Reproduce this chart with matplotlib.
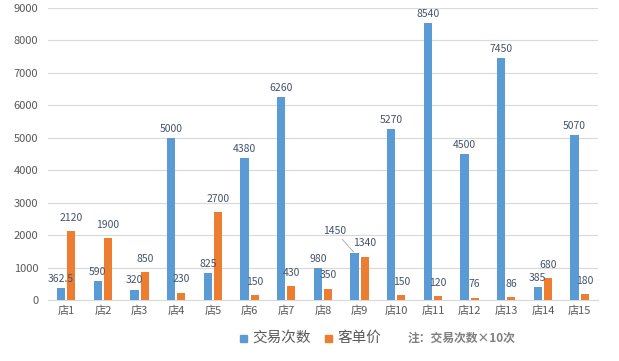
import numpy as np
import matplotlib
matplotlib.use('Agg')
import matplotlib.pyplot as plt
from matplotlib.patches import Rectangle

plt.rcParams['font.family'] = ['Noto Sans CJK SC', 'DejaVu Sans']

stores = [f'店{i}' for i in range(1, 16)]
trades = [362.5, 590, 320, 5000, 825, 4380, 6260, 980, 1450, 5270, 8540, 4500, 7450, 385, 5070]
prices = [2120, 1900, 850, 230, 2700, 150, 430, 350, 1340, 150, 120, 76, 86, 680, 180]
yticks = [0, 1000, 2000, 3000, 4000, 5000, 6000, 7000, 8000, 9000]

BLUE = '#5B9BD5'
ORANGE = '#ED7D31'
TEXT = '#44546A'

fig = plt.figure(figsize=(6.19, 3.61), dpi=100)
ax = fig.add_axes([0.0775, 0.169, 0.8885, 0.809])

x = np.arange(len(stores))
w = 0.22
gap = 0.03
ax.bar(x - w / 2 - gap, trades, width=w, color=BLUE, zorder=3)
ax.bar(x + w / 2 + gap, prices, width=w, color=ORANGE, zorder=3)

for i, (t, p) in enumerate(zip(trades, prices)):
    if stores[i] == '店9':
        # label pulled off the bar with a leader line
        ax.annotate(f'{t:g}', xy=(i - w / 2 - gap, t), xytext=(-14, 12),
                    textcoords='offset points', ha='center', va='bottom',
                    fontsize=7.5, color=TEXT,
                    arrowprops=dict(arrowstyle='-', color='#A6A6A6', lw=0.6,
                                    shrinkA=0, shrinkB=1))
    else:
        ax.annotate(f'{t:g}', xy=(i - w / 2 - gap, t), xytext=(0, 3),
                    textcoords='offset points', ha='center', va='bottom',
                    fontsize=7.5, color=TEXT)
    ax.annotate(f'{p:g}', xy=(i + w / 2 + gap, p), xytext=(0, 6),
                textcoords='offset points', ha='center', va='bottom',
                fontsize=7.5, color=TEXT)

ax.set_xlim(-0.5, len(stores) - 0.5)
ax.set_ylim(0, 9000)
ax.set_yticks(yticks)
ax.set_xticks(x)
ax.set_xticklabels(stores)
ax.tick_params(axis='both', length=0, labelsize=8, colors='#595959')
ax.tick_params(axis='y', pad=7)
ax.tick_params(axis='x', pad=4)
ax.grid(axis='y', color='#D9D9D9', lw=0.8, zorder=0)
for side in ['top', 'right', 'left']:
    ax.spines[side].set_visible(False)
ax.spines['bottom'].set_color('#D9D9D9')

# legend row below the axes
fig.patches.append(Rectangle((240 / 619, 1 - 342 / 361), 7 / 619, 7 / 361,
                             transform=fig.transFigure, color=BLUE))
fig.text(252 / 619, 1 - 338 / 361, '交易次数', fontsize=10.5, color='#595959', va='center')
fig.patches.append(Rectangle((325 / 619, 1 - 342 / 361), 7 / 619, 7 / 361,
                             transform=fig.transFigure, color=ORANGE))
fig.text(337 / 619, 1 - 338 / 361, '客单价', fontsize=10.5, color='#595959', va='center')
fig.text(408 / 619, 1 - 338 / 361, '注：交易次数×10次', fontsize=8.5, color='#7F7F7F',
         fontweight='bold', va='center')

fig.savefig('out.png', dpi=100)
